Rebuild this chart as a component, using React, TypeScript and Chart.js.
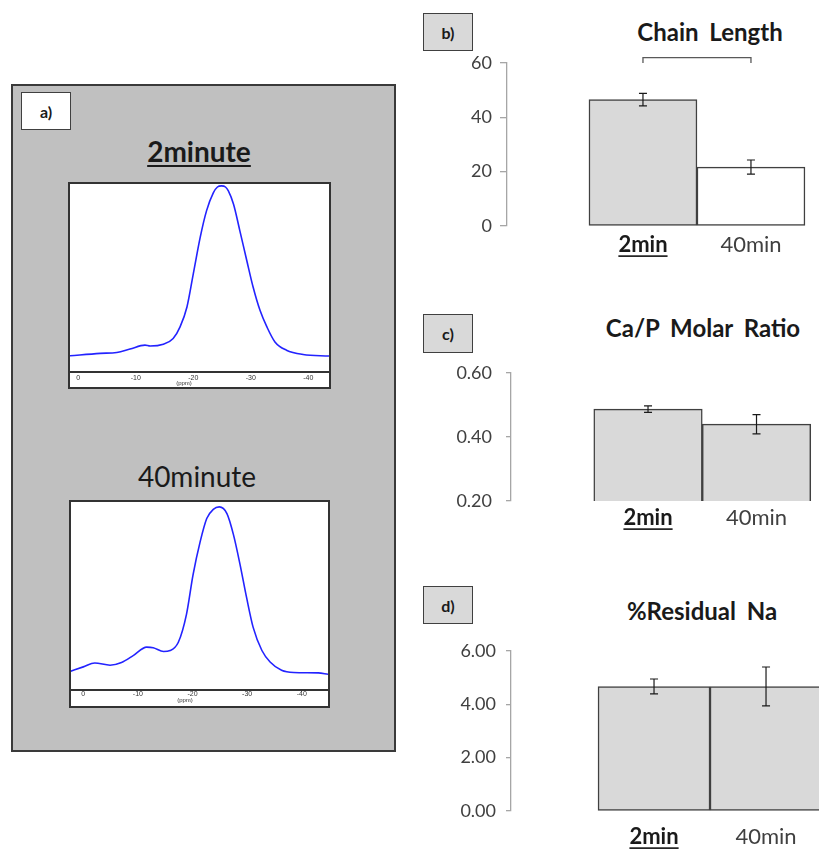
import React, { useEffect, useRef } from "react";
import { Chart, registerables } from "chart.js";

Chart.register(...registerables);

const FONT = "Lato, 'Open Sans', sans-serif";
const SMALL_FONT = "'Liberation Sans', Arial, sans-serif";

// ---- Panel a: 31P NMR spectra ----
const PPM_TICKS = [0, -10, -20, -30, -40];
const PPM_2MIN = [1.5, -3.8, -6.7, -9.0, -11.6, -12.5, -14.8, -16.5, -17.7, -18.9, -20.0, -21.2, -22.3, -23.5, -24.2, -24.9, -25.6, -26.1, -27.0, -28.1, -29.3, -30.4, -31.6, -32.8, -34.2, -36.2, -39.1, -43.6];
const INT_2MIN = [8.6, 9.9, 10.4, 12.2, 14.3, 13.8, 14.8, 17.8, 24.0, 34.6, 52.2, 71.6, 85.7, 95.4, 98.4, 99.0, 98.4, 96.3, 89.2, 75.1, 59.3, 45.2, 32.8, 24.0, 16.0, 11.6, 9.3, 8.5];
const PPM_40MIN = [2.3, 0.0, -2.1, -4.9, -7.0, -9.2, -11.6, -12.8, -14.7, -15.9, -17.4, -18.9, -20.1, -21.4, -22.6, -23.8, -24.9, -26.3, -27.5, -28.7, -29.9, -31.1, -32.7, -34.2, -36.3, -38.5, -43.0, -44.8];
const INT_40MIN = [10.0, 12.3, 14.4, 13.2, 14.6, 18.4, 22.8, 22.5, 20.5, 21.0, 25.4, 40.4, 61.4, 78.9, 91.2, 96.1, 97.4, 93.8, 82.5, 66.7, 49.1, 33.3, 21.0, 14.9, 10.5, 9.3, 9.1, 8.4];

// ---- Panels b-d: bar charts ----
const TIME_LABELS = ["2min", "40min"];
const CHAIN_LENGTH = [46.5, 21.7];
const CHAIN_LENGTH_ERR = [2.3, 2.6];
const CHAIN_TICKS = [0, 20, 40, 60];
const CAP_RATIO = [0.487, 0.44];
const CAP_RATIO_ERR = [0.01, 0.03];
const CAP_TICKS = [0.2, 0.4, 0.6];
const NA_RESIDUAL = [4.67, 4.67];
const NA_RESIDUAL_ERR = [0.28, 0.73];
const NA_TICKS = [0, 2, 4, 6];
const CHAIN_BRACKET = { from: 1, to: 2, level: 62, base: 60 };

const X_LABEL_SIZE = 22;

const errorBarPlugin = {
  id: "errorBars",
  afterDatasetsDraw(chart: any) {
    const ctx = chart.ctx;
    const xs = chart.scales.x;
    const ys = chart.scales.y;
    chart.data.datasets.forEach((ds: any) => {
      if (!ds.errors) return;
      ds.data.forEach((pt: any, i: number) => {
        const e = ds.errors[i];
        const x = xs.getPixelForValue(pt.x);
        const yt = ys.getPixelForValue(pt.y + e);
        const yb = ys.getPixelForValue(pt.y - e);
        ctx.save();
        ctx.strokeStyle = "#1a1a1a";
        ctx.lineWidth = 1.2;
        ctx.beginPath();
        ctx.moveTo(x, yt);
        ctx.lineTo(x, yb);
        ctx.moveTo(x - 4, yt);
        ctx.lineTo(x + 4, yt);
        ctx.moveTo(x - 4, yb);
        ctx.lineTo(x + 4, yb);
        ctx.stroke();
        ctx.restore();
      });
    });
  },
};

const bracketPlugin = {
  id: "bracket",
  afterDraw(chart: any, _args: any, opts: any) {
    if (!opts || opts.level === undefined) return;
    const ctx = chart.ctx;
    const xs = chart.scales.x;
    const ys = chart.scales.y;
    const x1 = xs.getPixelForValue(opts.from);
    const x2 = xs.getPixelForValue(opts.to);
    const y = ys.getPixelForValue(opts.level);
    const yb = ys.getPixelForValue(opts.base);
    ctx.save();
    ctx.strokeStyle = "#595959";
    ctx.lineWidth = 1.3;
    ctx.beginPath();
    ctx.moveTo(x1, yb);
    ctx.lineTo(x1, y);
    ctx.lineTo(x2, y);
    ctx.lineTo(x2, yb);
    ctx.stroke();
    ctx.restore();
  },
};

const underlinePlugin = {
  id: "underlineFirst",
  afterDraw(chart: any, _args: any, opts: any) {
    if (!opts || !opts.text) return;
    const ctx = chart.ctx;
    const xs = chart.scales.x;
    ctx.save();
    ctx.font = `bold ${opts.size}px ${FONT}`;
    const w = ctx.measureText(opts.text).width;
    const x = xs.getPixelForValue(1);
    const y = xs.top + opts.padding + opts.size * 0.6 + opts.size * 0.5;
    ctx.strokeStyle = "#262626";
    ctx.lineWidth = 1.8;
    ctx.beginPath();
    ctx.moveTo(x - w / 2, y);
    ctx.lineTo(x + w / 2, y);
    ctx.stroke();
    ctx.restore();
  },
};

type SpecProps = {
  left: number; top: number; width: number; height: number;
  ppm: number[]; intensity: number[]; xMin: number; xMax: number;
  axisHeight: number; tickPadding: number;
};

function Spectrum(p: SpecProps) {
  const ref = useRef<HTMLCanvasElement>(null);
  useEffect(() => {
    const chart = new Chart(ref.current as HTMLCanvasElement, {
      type: "line",
      data: {
        datasets: [
          {
            data: p.ppm.map((x, i) => ({ x, y: p.intensity[i] })),
            borderColor: "#2323ff",
            borderWidth: 1.6,
            pointRadius: 0,
            cubicInterpolationMode: "monotone",
            fill: false,
          },
        ],
      },
      options: {
        animation: false,
        responsive: false,
        events: [],
        layout: { padding: 0 },
        plugins: { legend: { display: false }, tooltip: { enabled: false } },
        scales: {
          x: {
            type: "linear",
            reverse: true,
            offset: false,
            min: p.xMin,
            max: p.xMax,
            afterBuildTicks: (s: any) => {
              s.ticks = PPM_TICKS.map((v) => ({ value: v }));
            },
            afterFit: (s: any) => {
              s.height = p.axisHeight;
            },
            grid: { display: false, drawTicks: false },
            border: { display: true, color: "#333", width: 2 },
            ticks: {
              padding: p.tickPadding,
              maxRotation: 0,
              autoSkip: false,
              color: "#333",
              font: { size: 7, family: SMALL_FONT },
              callback: (v: any) => String(v),
            },
          },
          y: { display: false, min: 0, max: 100 },
        },
      },
    } as any);
    return () => chart.destroy();
  }, []);
  return (
    <div
      style={{
        position: "absolute",
        left: p.left,
        top: p.top,
        width: p.width,
        height: p.height,
        boxSizing: "border-box",
        border: "2px solid #333",
        background: "#fff",
      }}
    >
      <canvas ref={ref} width={p.width - 4} height={p.height - 4} style={{ display: "block" }} />
    </div>
  );
}

type BarProps = {
  left: number; top: number; width: number; height: number;
  axisWidth: number; padTop: number; xAxisHeight: number;
  xMin: number; xMax: number; yMin: number; yMax: number; yTicks: number[];
  decimals: number; values: number[]; errors: number[]; colors: string[];
  tickLength: number; tickPadding: number; labelPadding: number;
  bracket?: any;
};

function BarPanel(p: BarProps) {
  const ref = useRef<HTMLCanvasElement>(null);
  useEffect(() => {
    const chart = new Chart(ref.current as HTMLCanvasElement, {
      type: "bar",
      data: {
        datasets: [
          {
            data: p.values.map((y, i) => ({ x: i + 1, y })),
            errors: p.errors,
            backgroundColor: p.colors,
            borderColor: "#404040",
            borderWidth: 1.5,
            borderSkipped: false,
            barPercentage: 1,
            categoryPercentage: 1,
          } as any,
        ],
      },
      options: {
        animation: false,
        responsive: false,
        events: [],
        layout: { padding: { top: p.padTop, left: 0, right: 0, bottom: 0 } },
        plugins: {
          legend: { display: false },
          tooltip: { enabled: false },
          bracket: p.bracket || {},
          underlineFirst: { text: TIME_LABELS[0], size: X_LABEL_SIZE, padding: p.labelPadding },
        },
        scales: {
          x: {
            type: "linear",
            offset: false,
            min: p.xMin,
            max: p.xMax,
            afterBuildTicks: (s: any) => {
              s.ticks = TIME_LABELS.map((_, i) => ({ value: i + 1 }));
            },
            afterFit: (s: any) => {
              s.height = p.xAxisHeight;
            },
            grid: { display: false, drawTicks: false, offset: false },
            border: { display: false },
            ticks: {
              padding: p.labelPadding,
              maxRotation: 0,
              autoSkip: false,
              color: (c: any) => (c.index === 0 ? "#1a1a1a" : "#404040"),
              font: (c: any) => ({
                size: X_LABEL_SIZE,
                family: FONT,
                weight: c.index === 0 ? "bold" : "normal",
              }),
              callback: (_v: any, i: number) => TIME_LABELS[i],
            },
          },
          y: {
            type: "linear",
            min: p.yMin,
            max: p.yMax,
            afterBuildTicks: (s: any) => {
              s.ticks = p.yTicks.map((v) => ({ value: v }));
            },
            afterFit: (s: any) => {
              s.width = p.axisWidth;
            },
            grid: {
              display: true,
              drawOnChartArea: false,
              drawTicks: true,
              tickLength: p.tickLength,
              color: "#a6a6a6",
              lineWidth: 1.3,
            },
            border: { display: true, color: "#a6a6a6", width: 1.3 },
            ticks: {
              padding: p.tickPadding,
              color: "#404040",
              font: { size: 18, family: FONT },
              callback: (v: any) => Number(v).toFixed(p.decimals),
            },
          },
        },
      },
      plugins: [errorBarPlugin, bracketPlugin, underlinePlugin],
    } as any);
    return () => chart.destroy();
  }, []);
  return (
    <canvas
      ref={ref}
      width={p.width}
      height={p.height}
      style={{ position: "absolute", left: p.left, top: p.top, display: "block" }}
    />
  );
}

function LabelBox(props: { left: number; top: number; w: number; h: number; text: string; bg: string }) {
  return (
    <div
      style={{
        position: "absolute",
        left: props.left,
        top: props.top,
        width: props.w,
        height: props.h,
        boxSizing: "border-box",
        border: "1.5px solid #404040",
        background: props.bg,
        fontFamily: FONT,
        fontWeight: "bold",
        fontSize: 16,
        color: "#1a1a1a",
        display: "flex",
        alignItems: "center",
        justifyContent: "center",
      }}
    >
      {props.text}
    </div>
  );
}

function CenterText(props: { cx: number; cy: number; text: string; size: number; bold?: boolean; underline?: boolean; spacing?: number; family?: string; color?: string }) {
  return (
    <div
      style={{
        position: "absolute",
        left: props.cx - 200,
        top: props.cy - props.size,
        width: 400,
        height: props.size * 2,
        lineHeight: `${props.size * 2}px`,
        textAlign: "center",
        fontFamily: props.family || FONT,
        fontSize: props.size,
        fontWeight: props.bold ? "bold" : "normal",
        textDecoration: props.underline ? "underline" : "none",
        textDecorationThickness: props.underline ? "2px" : undefined,
        textUnderlineOffset: props.underline ? "3px" : undefined,
        wordSpacing: props.spacing || 0,
        color: props.color || "#1a1a1a",
        whiteSpace: "nowrap",
      }}
    >
      {props.text}
    </div>
  );
}

export default function App() {
  return (
    <div style={{ position: "absolute", left: 0, top: 0, width: 819, height: 850, background: "#fff", overflow: "hidden" }}>
      {/* Panel a */}
      <div
        style={{
          position: "absolute",
          left: 11,
          top: 84,
          width: 385,
          height: 668,
          boxSizing: "border-box",
          border: "2px solid #3a3a3a",
          background: "#c0c0c0",
        }}
      />
      <LabelBox left={21} top={92} w={50} h={38} text="a)" bg="#ffffff" />
      <CenterText cx={199} cy={151} text="2minute" size={28} bold underline />
      <Spectrum left={68} top={182} width={263} height={207} ppm={PPM_2MIN} intensity={INT_2MIN} xMin={-43.6} xMax={1.44} axisHeight={15} tickPadding={2} />
      <CenterText cx={184} cy={383} text="(ppm)" size={6} family={SMALL_FONT} color="#333" />
      <CenterText cx={197} cy={476} text="40minute" size={28} />
      <Spectrum left={69} top={500} width={261} height={208} ppm={PPM_40MIN} intensity={INT_40MIN} xMin={-44.8} xMax={2.25} axisHeight={16} tickPadding={0} />
      <CenterText cx={185} cy={700} text="(ppm)" size={6} family={SMALL_FONT} color="#333" />

      {/* Panel b */}
      <LabelBox left={423} top={13} w={50} h={38} text="b)" bg="#d9d9d9" />
      <CenterText cx={710} cy={32} text="Chain Length" size={24} bold spacing={5} />
      <BarPanel
        left={420} top={38} width={399} height={228}
        axisWidth={87} padTop={25} xAxisHeight={40}
        xMin={-0.259} xMax={2.63} yMin={0} yMax={60} yTicks={CHAIN_TICKS} decimals={0}
        values={CHAIN_LENGTH} errors={CHAIN_LENGTH_ERR} colors={["#d9d9d9", "#ffffff"]}
        tickLength={7} tickPadding={8} labelPadding={6}
        bracket={CHAIN_BRACKET}
      />

      {/* Panel c */}
      <LabelBox left={423} top={314} w={50} h={39} text="c)" bg="#d9d9d9" />
      <CenterText cx={703} cy={328} text="Ca/P Molar Ratio" size={24} bold spacing={5} />
      <BarPanel
        left={420} top={348} width={399} height={193}
        axisWidth={91} padTop={25} xAxisHeight={40}
        xMin={-0.263} xMax={2.576} yMin={0.2} yMax={0.6} yTicks={CAP_TICKS} decimals={2}
        values={CAP_RATIO} errors={CAP_RATIO_ERR} colors={["#d9d9d9", "#d9d9d9"]}
        tickLength={5} tickPadding={14} labelPadding={4}
      />

      {/* Panel d */}
      <LabelBox left={423} top={586} w={50} h={38} text="d)" bg="#d9d9d9" />
      <CenterText cx={702} cy={611} text="%Residual Na" size={24} bold spacing={5} />
      <BarPanel
        left={420} top={626} width={399} height={224}
        axisWidth={91} padTop={25} xAxisHeight={39}
        xMin={-0.277} xMax={2.473} yMin={0} yMax={6} yTicks={NA_TICKS} decimals={2}
        values={NA_RESIDUAL} errors={NA_RESIDUAL_ERR} colors={["#d9d9d9", "#d9d9d9"]}
        tickLength={5} tickPadding={10} labelPadding={13}
      />
    </div>
  );
}
